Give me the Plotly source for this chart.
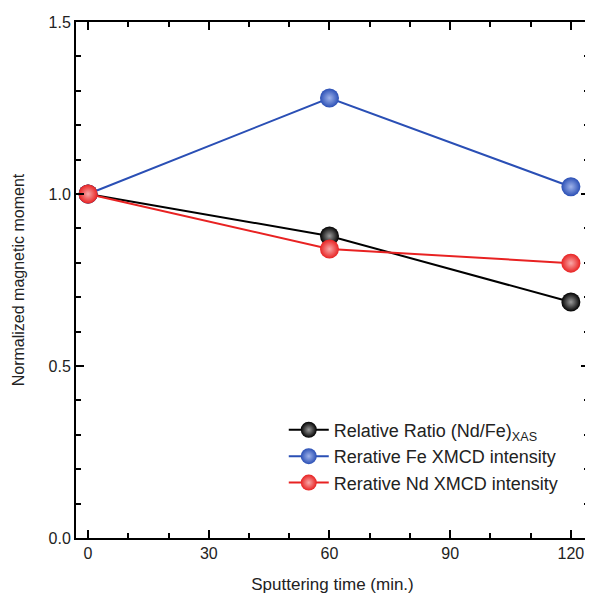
import plotly.graph_objects as go

time = [0, 60, 120]
ratio = [1.0, 0.878, 0.686]
fe = [1.0, 1.279, 1.021]
nd = [1.0, 0.840, 0.799]

names = ["Relative Ratio (Nd/Fe)<sub>XAS</sub>", "Rerative Fe XMCD intensity", "Rerative Nd XMCD intensity"]
colors = ["#000000", "#2a4fb5", "#e82222"]
highlights = ["#9a9a9a", "#9fb3ea", "#f8a8a8"]
series = [ratio, fe, nd]

FONT = "Liberation Sans, Arial"

fig = go.Figure()
for name, c, h, ys in zip(names, colors, highlights, series):
    fig.add_trace(go.Scatter(
        x=time, y=ys, mode="lines+markers", name=name,
        line=dict(color=c, width=2),
        marker=dict(size=19, color=c, line=dict(width=0),
                    gradient=dict(type="radial", color=h)),
    ))

axis_common = dict(
    showline=True, linecolor="black", linewidth=2, mirror="ticks",
    ticks="inside", ticklen=8, tickwidth=2, tickcolor="black",
    showgrid=False, zeroline=False,
    tickfont=dict(family=FONT, size=16, color="#222"),
)

fig.update_xaxes(
    range=[-3, 124.5], tickvals=[0, 30, 60, 90, 120],
    minor=dict(dtick=10, tick0=0, ticks="inside", ticklen=5, tickwidth=2, tickcolor="black"),
    title=dict(text="Sputtering time (min.)", font=dict(family=FONT, size=17, color="#222"), standoff=17),
    ticklabeloverflow="allow",
    **axis_common,
)
fig.update_yaxes(
    range=[0, 1.5], tickvals=[0, 0.5, 1.0, 1.5], ticktext=["0.0", "0.5", "1.0", "1.5"],
    minor=dict(dtick=0.1, tick0=0, ticks="inside", ticklen=5, tickwidth=2, tickcolor="black"),
    title=dict(text="Normalized magnetic moment", font=dict(family=FONT, size=16, color="#222"), standoff=20),
    **axis_common,
)

fig.update_layout(
    width=585, height=589,
    margin=dict(l=68, r=2, t=14, b=59),
    paper_bgcolor="white", plot_bgcolor="white",
    legend=dict(x=0.405, y=0.245, xanchor="left", yanchor="top",
                font=dict(family=FONT, size=18, color="#222"),
                bgcolor="rgba(0,0,0,0)", tracegroupgap=0, itemwidth=40),
)

fig.write_html("out.html")
